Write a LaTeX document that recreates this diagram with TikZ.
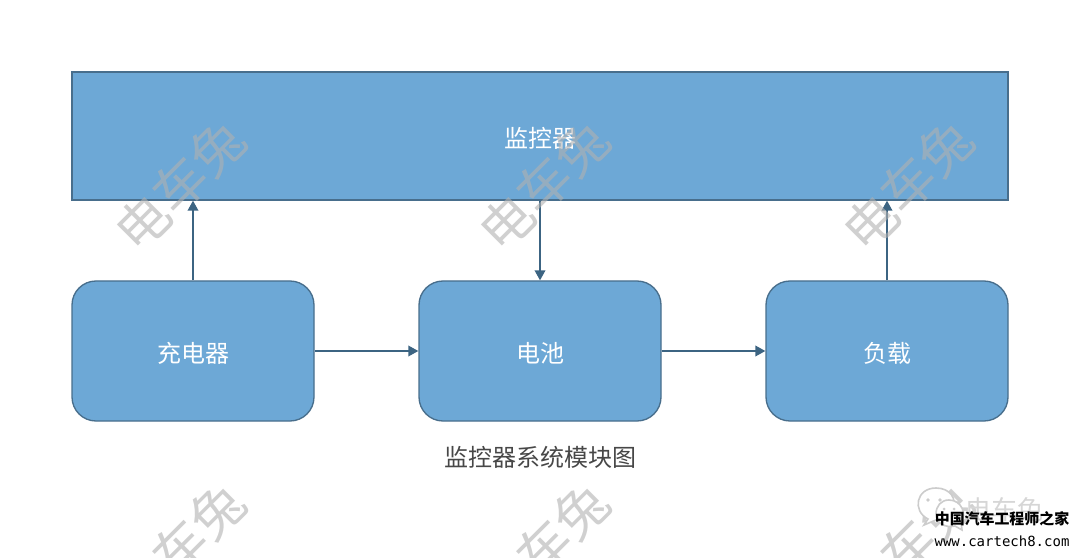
\documentclass[tikz,border=0pt]{standalone}
\usepackage{fontspec}
\setmainfont{Noto Sans CJK SC}
\newfontfamily\monofont{DejaVu Sans Mono}
\usetikzlibrary{arrows.meta}
\definecolor{boxfill}{RGB}{109,168,214}
\definecolor{boxline}{RGB}{72,110,140}
\definecolor{arrowline}{RGB}{60,100,130}
\definecolor{markgray}{RGB}{177,177,177}
\tikzset{
    monitorbox/.style = {draw = boxline, fill = boxfill, line width = 1pt, minimum width = 702pt, minimum height = 96pt, inner sep = 0pt, text = white, text height = 19pt, text depth = 1.6pt, font = \fontsize{18pt}{18pt}\selectfont},
    modulebox/.style = {draw = boxline, fill = boxfill, line width = 1pt, rounded corners = 18pt, minimum width = 181.5pt, minimum height = 105pt, inner sep = 0pt, text = white, text height = 19pt, text depth = 1.6pt, font = \fontsize{18pt}{18pt}\selectfont},
    link/.style = {draw = arrowline, line width = 1.1pt, -{Triangle[length = 7.5pt, width = 8pt]}},
    watermark/.style = {text = markgray, opacity = 0.6, rotate = 45, font = \fontsize{39.5pt}{39.5pt}\selectfont},
    caption/.style = {text = black!72, font = \fontsize{18pt}{18pt}\selectfont},
    bubble/.style = {draw = black!20, line width = 1.2pt, fill = white}
}
\begin{document}
\begin{tikzpicture}[x = 0.75pt, y = 0.75pt]
    \useasboundingbox (0,0) rectangle (1080,557);
    \node[monitorbox] (monitor) at (540,421) {监控器};
    \node[modulebox] (charger) at (193,206) {充电器};
    \node[modulebox] (battery) at (540,206) {电池};
    \node[modulebox] (load) at (887,206) {负载};
    \node[caption] (title) at (540,100) {监控器系统模块图};
    \draw[link] (charger.north) -- (charger.north |- monitor.south);
    \draw[link] (monitor.south) -- (battery.north);
    \draw[link] (load.north) -- (load.north |- monitor.south);
    \draw[link] (charger.east) -- (battery.west);
    \draw[link] (battery.east) -- (load.west);
    % watermarks
    \begin{scope}
        \clip (0,0) rectangle (1080,557);
        \foreach \name/\xpos in {a/180, b/544, c/908} {
            \node[watermark] (mark\name top) at (\xpos,372) {电车兔};
            \node[watermark] (mark\name low) at (\xpos,9) {电车兔};
        }
    \end{scope}
    % logo
    \draw[bubble] (928,38) .. controls (912,46) and (916,69) .. (936,69) .. controls (950,69) and (958,58) .. (952,47) -- (936,37) -- (924,32) -- cycle;
    \draw[bubble] (936,43) .. controls (936,33) and (946,29) .. (955,31) -- (962,27) -- (961,35) .. controls (967,42) and (962,57) .. (949,57) .. controls (941,57) and (936,51) .. (936,43) -- cycle;
    \fill[black!20] (928,57) circle (1.8) (940,57) circle (1.8) (944,48) circle (1.5) (954,48) circle (1.5);
    \node[text = black!16, font = \fontsize{19.5pt}{19.5pt}\selectfont] (logomark) at (1004,47) {电车兔};
    \node[text = black, font = \fontsize{11.2pt}{11.2pt}\selectfont\bfseries] (logoname) at (1002,38) {中国汽车工程师之家};
    \node[text = black, font = \fontsize{10.5pt}{10.5pt}\monofont] (logourl) at (1002,16) {www.cartech8.com};
\end{tikzpicture}
\end{document}
